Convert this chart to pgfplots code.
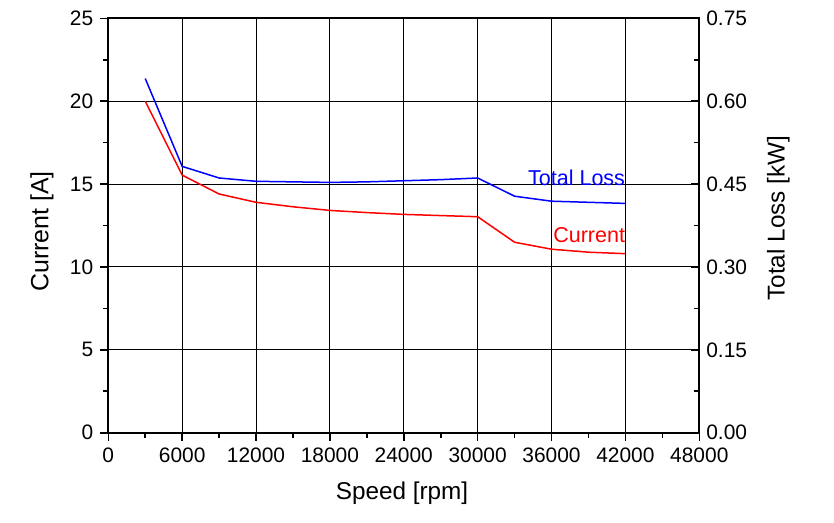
\documentclass[border=0pt]{standalone}
\usepackage{fontspec}
\setmainfont{Liberation Sans}
\usepackage{pgfplots}
\pgfplotsset{compat=1.18}
\begin{document}
\begin{tikzpicture}
\pgfplotsset{
  common/.style={
    scale only axis, width=295.5bp, height=207.2bp,
    xmin=0, xmax=48000,
    /pgf/number format/assume math mode=true,
    tick label style={font=\fontsize{10.5}{12}\selectfont, black},
    major tick length=4bp, minor tick length=2.5bp,
    every tick/.style={black, line width=0.8bp},
    axis line style={black, line width=1bp},
  }
}
\begin{axis}[
  common,
  ymin=0, ymax=25,
  xtick={0,6000,12000,18000,24000,30000,36000,42000,48000},
  ytick={0,5,10,15,20,25},
  minor x tick num=1, minor y tick num=1,
  xtick pos=bottom, ytick pos=left,
  tick align=outside,
  grid=major, major grid style={black, line width=0.5bp},
  scaled x ticks=false,
  xticklabel style={/pgf/number format/.cd, 1000 sep={}},
  xlabel={Speed [rpm]},
  ylabel={Current [A]},
  every axis x label/.style={at={(axis description cs:0.497,-0.145)}, anchor=center, font=\fontsize{12.2}{14}\selectfont},
  every axis y label/.style={at={(axis description cs:-0.1122,0.4855)}, anchor=center, rotate=90, font=\fontsize{12.5}{14}\selectfont},
]
\addplot[red, line width=0.75bp] coordinates {
  (3000,20.0) (6000,15.54) (9000,14.4) (12000,13.9) (15000,13.63) (18000,13.41)
  (21000,13.28) (24000,13.17) (27000,13.1) (30000,13.03) (33000,11.49)
  (36000,11.07) (39000,10.89) (42000,10.8)
};
\node[anchor=base east, red, font=\fontsize{10.8}{13}\selectfont, inner sep=0pt] at (axis cs:42000,11.5) {Current};
\coordinate (sw) at (rel axis cs:0,0);
\coordinate (ne) at (rel axis cs:1,1);
\end{axis}
\begin{axis}[
  common,
  ymin=0, ymax=0.75,
  axis x line=none, axis y line*=right,
  ytick={0,0.15,0.30,0.45,0.60,0.75},
  minor y tick num=1,
  tick align=inside,
  yticklabel style={/pgf/number format/.cd, fixed, fixed zerofill, precision=2},
  ylabel={Total Loss [kW]},
  every axis y label/.style={at={(axis description cs:1.1337,0.518)}, anchor=center, rotate=90, font=\fontsize{12.2}{14}\selectfont},
]
\addplot[blue, line width=0.75bp] coordinates {
  (3000,0.641) (6000,0.482) (9000,0.461) (12000,0.455) (15000,0.454) (18000,0.453)
  (21000,0.454) (24000,0.456) (27000,0.458) (30000,0.461) (33000,0.428)
  (36000,0.419) (39000,0.417) (42000,0.415)
};
\node[anchor=base east, blue, font=\fontsize{10.8}{13}\selectfont, inner sep=0pt] at (axis cs:42000,0.447) {Total Loss};
\end{axis}
\pgfresetboundingbox
\path[use as bounding box] ([shift={(-54.15bp,-44.65bp)}]sw) rectangle ([shift={(67.35bp,9.15bp)}]ne);
\end{tikzpicture}
\end{document}
